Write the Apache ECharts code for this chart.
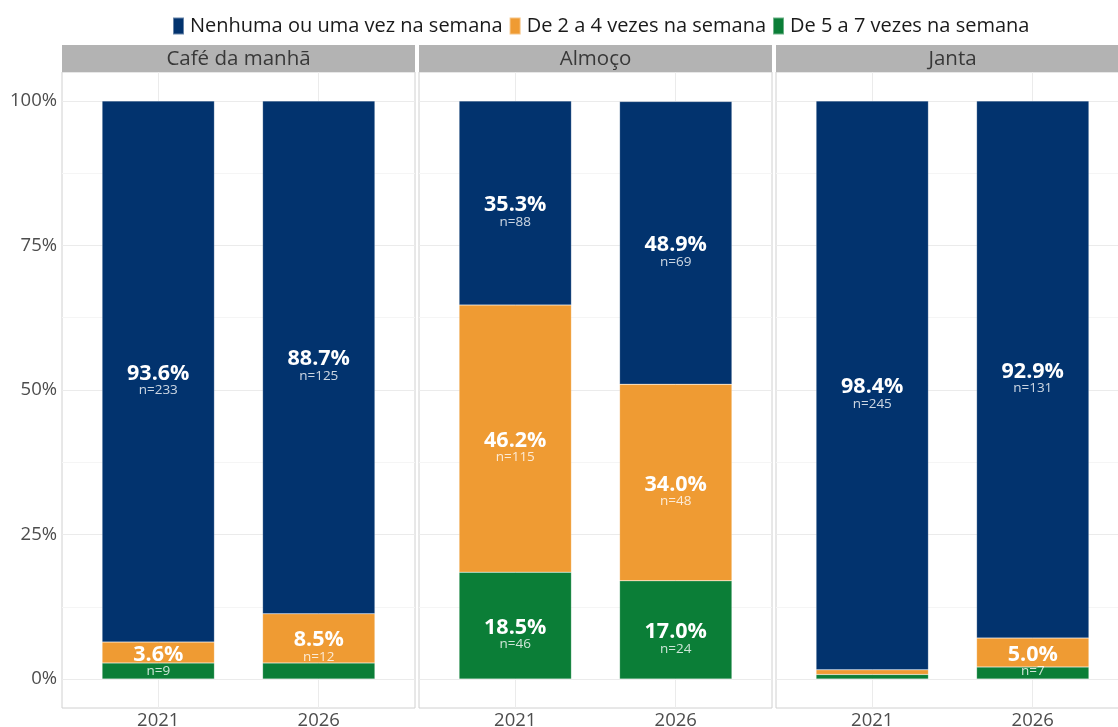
<!DOCTYPE html>
<html>
<head>
<meta charset="utf-8">
<script src="https://cdn.jsdelivr.net/npm/echarts@6/dist/echarts.min.js"></script>
<style>
html, body { margin: 0; padding: 0; background: #fff; }
#container { width: 1118px; height: 727px; }
</style>
</head>
<body>
<div id="container"></div>
<script>
// dados
var refeicoes = ['Café da manhã', 'Almoço', 'Janta'];
var anos = ['2021', '2026'];
var categorias = ['Nenhuma ou uma vez na semana', 'De 2 a 4 vezes na semana', 'De 5 a 7 vezes na semana'];
// percentuais [refeicao][ano]
var pctNenhuma = [[93.6, 88.7], [35.3, 48.9], [98.4, 92.9]];
var pct2a4 = [[3.6, 8.5], [46.2, 34.0], [0.8, 5.0]];
var pct5a7 = [[2.8, 2.8], [18.5, 17.0], [0.8, 2.1]];
// contagens [refeicao][ano]
var nNenhuma = [[233, 125], [88, 69], [245, 131]];
var n2a4 = [[9, 12], [115, 48], [2, 7]];
var n5a7 = [[7, 4], [46, 24], [2, 3]];
var yTicks = [0, 25, 50, 75, 100];
var yGrade = [0, 12.5, 25, 37.5, 50, 62.5, 75, 87.5, 100];

var cores = ['#02336e', '#ef9b33', '#0b7e37'];
var pcts = [pctNenhuma, pct2a4, pct5a7];
var ns = [nNenhuma, n2a4, n5a7];

var dom = document.getElementById('container');
var myChart = echarts.init(dom);

var fonte = '"Open Sans", "Noto Sans", sans-serif';
var panelLeft = [62, 419, 776];
var panelW = 353;
var topo = 72, altura = 636;

var grid = [], xAxis = [], yAxis = [], series = [], graphic = [];

for (var i = 0; i < refeicoes.length; i++) {
    // painel: fundo, borda e linhas de grade
    grid.push({
        left: panelLeft[i], top: topo, width: panelW, height: altura,
        show: true, backgroundColor: '#fff', borderColor: '#d0d0d0', borderWidth: 1,
        outerBoundsMode: 'none', containLabel: false
    });
    // barras (inset para imitar a expansao do eixo discreto)
    grid.push({
        left: panelLeft[i] + 16, top: topo, width: 321, height: altura,
        outerBoundsMode: 'none', containLabel: false
    });

    xAxis.push({
        gridIndex: 2 * i, type: 'value', min: 0.4, max: 2.6,
        axisLine: { show: false },
        axisTick: { show: false, customValues: [1, 2] },
        axisLabel: {
            customValues: [1, 2],
            formatter: function (v) { return anos[Math.round(v) - 1]; },
            color: '#4d4d4d', fontSize: 18.5, fontFamily: fonte, margin: 3
        },
        splitLine: { show: true, lineStyle: { color: '#ebebeb', width: 1 } }
    });
    xAxis.push({ gridIndex: 2 * i + 1, type: 'category', data: anos, show: false });

    yAxis.push({
        gridIndex: 2 * i, type: 'value', min: -5, max: 105,
        axisLine: { show: false },
        axisTick: { show: false, customValues: yGrade },
        axisLabel: {
            show: i === 0, customValues: yTicks, formatter: '{value}%',
            color: '#4d4d4d', fontSize: 18.5, fontFamily: fonte, margin: 5
        },
        splitLine: { show: true, lineStyle: { color: ['#ebebeb', '#f5f5f5'], width: 1 } }
    });
    yAxis.push({ gridIndex: 2 * i + 1, type: 'value', min: -5, max: 105, show: false });

    // cabecalho do painel
    graphic.push({
        type: 'rect', shape: { x: panelLeft[i], y: 45, width: panelW, height: 27 },
        style: { fill: '#b3b3b3' }, silent: true
    });
    graphic.push({
        type: 'text', x: panelLeft[i] + panelW / 2, y: 59,
        style: {
            text: refeicoes[i], fill: '#383838', font: '20.5px ' + fonte,
            textAlign: 'center', textVerticalAlign: 'middle'
        }, silent: true
    });

    // empilha de baixo para cima: 5 a 7, 2 a 4, nenhuma
    for (var c = categorias.length - 1; c >= 0; c--) {
        (function (i, c) {
            series.push({
                name: categorias[c], type: 'bar', stack: 'r' + i,
                xAxisIndex: 2 * i + 1, yAxisIndex: 2 * i + 1,
                barWidth: '70%',
                data: pcts[c][i],
                itemStyle: { color: cores[c], borderColor: 'rgba(255,255,255,0.4)', borderWidth: 0.5 },
                label: {
                    show: true, position: 'inside', offset: [0, 8],
                    formatter: function (p) {
                        var v = pcts[c][i][p.dataIndex];
                        if (v < 3) return '';
                        return '{p|' + v.toFixed(1) + '%}\n{n|n=' + ns[c][i][p.dataIndex] + '}';
                    },
                    rich: {
                        p: { fontSize: 21.5, fontWeight: 'bold', color: '#fff', fontFamily: fonte, lineHeight: 22 },
                        n: { fontSize: 13.5, color: 'rgba(255,255,255,0.8)', fontFamily: fonte, lineHeight: 12 }
                    }
                },
                emphasis: { disabled: true }
            });
        })(i, c);
    }
}

var option = {
    backgroundColor: '#fff',
    animation: false,
    legend: {
        data: categorias, top: 11, left: 167,
        itemWidth: 11, itemHeight: 17, itemGap: 6,
        icon: 'rect',
        textStyle: { fontSize: 20, color: '#1a1a1a', fontFamily: fonte, padding: [0, 0, 0, 1] },
        selectedMode: false
    },
    grid: grid,
    xAxis: xAxis,
    yAxis: yAxis,
    series: series,
    graphic: graphic
};
myChart.setOption(option);
</script>
</body>
</html>
